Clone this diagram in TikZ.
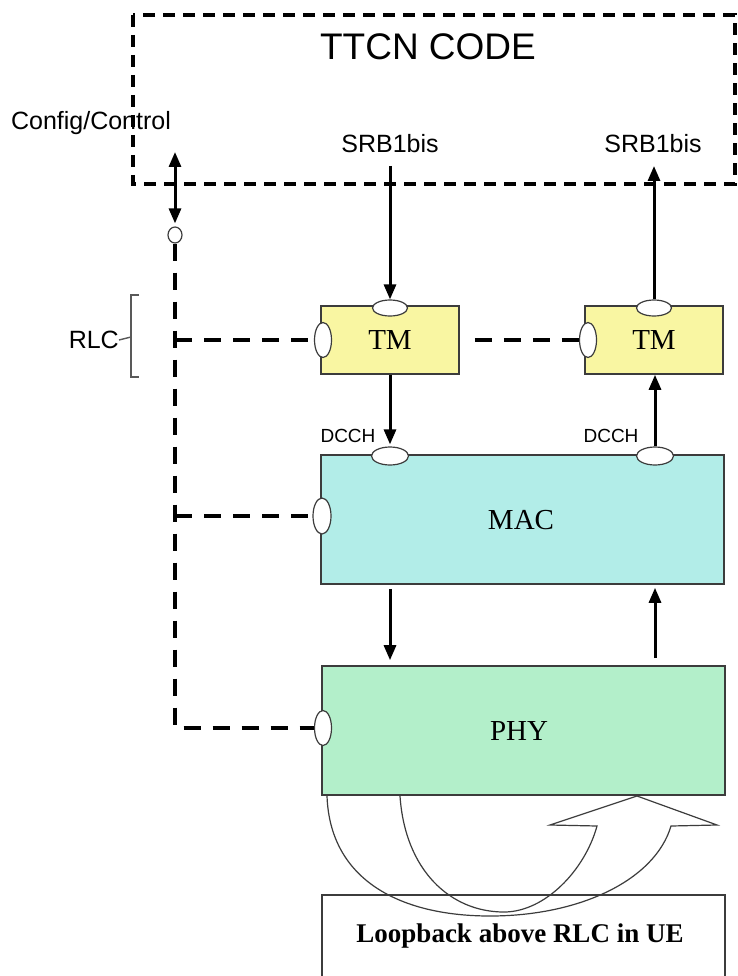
\documentclass[tikz,border=0pt]{standalone}
\usepackage{fontspec}
\setmainfont{Liberation Serif}
\newfontfamily\sansf{Liberation Sans}
\usetikzlibrary{arrows.meta,shapes.geometric}
\definecolor{tmy}{RGB}{249,246,162}
\definecolor{macc}{RGB}{178,237,232}
\definecolor{phyg}{RGB}{179,239,202}
\definecolor{edgec}{RGB}{60,60,60}
\begin{document}
\begin{tikzpicture}[x=1pt,y=-1pt,
  blk/.style={draw=edgec, line width=1.6pt, inner sep=0pt, font=\fontsize{29}{32}\selectfont},
  port/.style={ellipse, draw=edgec, fill=white, line width=1.2pt, inner sep=0pt},
  arr/.style={line width=3pt, -{Triangle[length=15pt,width=12pt]}},
  dsh/.style={line width=4.5pt, dash pattern=on 17pt off 12pt},
  sl/.style={font=\sansf\fontsize{25}{27}\selectfont, inner sep=0pt},
  sls/.style={font=\sansf\fontsize{19}{21}\selectfont, inner sep=0pt}]
\useasboundingbox (0,0) rectangle (738,976);
\fill[white] (0,0) rectangle (738,976);

% TTCN dashed box
\draw[line width=3.5pt, dash pattern=on 12pt off 8pt] (133,15) rectangle (735,184);
\node[font=\sansf\fontsize{37}{40}\selectfont, inner sep=0pt] (ttcn) at (428,47) {TTCN CODE};
\node[sl] (cfg) at (91,123) {Config/Control};
\node[sl] (srbl) at (390,144) {SRB1bis};
\node[sl] (srbr) at (653,144) {SRB1bis};

% blocks
\node[blk, fill=tmy, minimum width=138pt, minimum height=68pt] (tm1) at (390,340) {TM};
\node[blk, fill=tmy, minimum width=138pt, minimum height=68pt] (tm2) at (654,340) {TM};
\node[blk, fill=macc, minimum width=403pt, minimum height=129pt] (mac) at (522.5,519.5) {};
\node[font=\fontsize{29}{32}\selectfont, inner sep=0pt] (mact) at (521,520) {MAC};
\node[blk, fill=phyg, minimum width=403pt, minimum height=129pt] (phy) at (523.5,730.5) {};
\node[font=\fontsize{29}{32}\selectfont, inner sep=0pt] (phyt) at (519,731) {PHY};

% loopback box (open at bottom)
\draw[edgec, line width=1.6pt] (322,980) -- (322,895) -- (725,895) -- (725,980);
\node[font=\bfseries\fontsize{27}{30}\selectfont, inner sep=0pt] (lb) at (520,936) {Loopback above RLC in UE};

% ports
\node[port, minimum width=35pt, minimum height=16pt] (tm1t) at (390,308) {};
\node[port, minimum width=17pt, minimum height=35pt] (tm1l) at (323,340) {};
\node[port, minimum width=35pt, minimum height=16pt] (tm2t) at (654,308) {};
\node[port, minimum width=17pt, minimum height=35pt] (tm2l) at (588,340) {};
\node[port, minimum width=37pt, minimum height=18pt] (mac1) at (390,456) {};
\node[port, minimum width=37pt, minimum height=18pt] (mac2) at (655,456) {};
\node[port, minimum width=18pt, minimum height=36pt] (macl) at (322,516) {};
\node[port, minimum width=17pt, minimum height=35pt] (phyl) at (323,728) {};
\node[port, minimum width=14pt, minimum height=16pt] (cc) at (175,235) {};

% DCCH labels
\node[sls] (dl) at (348,436) {DCCH};
\node[sls] (dr) at (611,436) {DCCH};

% RLC bracket
\node[sl, anchor=east] (rlc) at (119,340) {RLC};
\draw[gray!70!black, line width=1.4pt] (139,295) -- (131,295) -- (131,377) -- (139,377);
\draw[gray!70!black, line width=1.4pt] (131,337) -- (rlc.east);

% coordinates for free ends
\coordinate (s1) at (390,166);
\coordinate (s2) at (654,166);
\coordinate (c1) at (175,152);
\coordinate (v1) at (175,340);
\coordinate (v2) at (175,516);
\coordinate (v3) at (175,728);

% arrows
\draw[arr] (s1) -- (tm1t.north);
\draw[arr] (tm2t.north) -- (s2);
\draw[arr, shorten >=2pt] (tm1.south -| tm1t) -- (mac1.north);
\draw[arr] (mac2.north) -- (tm2.south -| mac2);
\draw[arr, shorten <=4pt, shorten >=5pt] (mac.south -| mac1) -- (phy.north -| mac1);
\draw[arr, shorten <=7pt, shorten >=3pt] (phy.north -| mac2) -- (mac.south -| mac2);
\draw[line width=3pt, {Triangle[length=15pt,width=12pt]}-{Triangle[length=15pt,width=12pt]}, shorten >=3pt] (c1) -- (cc.north);

% dashed control lines
\draw[dsh] (cc.south) -- (v3) -- (phyl.west);
\draw[dsh] (v1) -- (tm1l.west);
\draw[dsh] (v2) -- (macl.west);
\draw[dsh, shorten <=15pt] (tm1.east) -- (tm2l.west);

% loopback u-turn arrow
\draw[edgec, line width=1.2pt, line join=miter]
  (327,796) .. controls (330,880) and (400,916) .. (490,916)
  .. controls (580,916) and (655,880) .. (671,826)
  -- (717,825) -- (637,796) -- (550,825) -- (597,826)
  .. controls (585,870) and (545,912) .. (504,912)
  .. controls (450,912) and (405,870) .. (400,796);
\end{tikzpicture}
\end{document}
